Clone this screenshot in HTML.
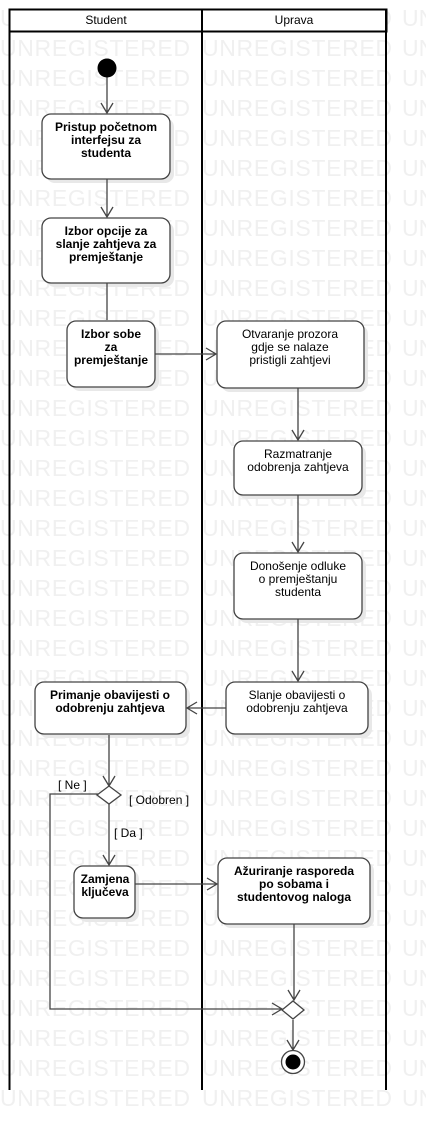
<!DOCTYPE html>
<html><head><meta charset="utf-8"><style>
html,body{margin:0;padding:0;background:#fff;}
svg{display:block;}
.wm{font-family:"Liberation Sans",sans-serif;font-size:23px;fill:#f0f0f0;}
.t{font-family:"Liberation Sans",sans-serif;font-size:12px;font-weight:bold;fill:#000;text-anchor:middle;}
.l{font-family:"Liberation Sans",sans-serif;font-size:12px;fill:#000;}
.n{fill:#fff;stroke:#444;stroke-width:1.3;}
.s{fill:#e8e8e8;}
.c{stroke:#444;stroke-width:1.3;fill:none;}
</style></head><body>
<svg width="426" height="1130" viewBox="0 0 426 1130" xmlns="http://www.w3.org/2000/svg">
<g class="wm">
<text x="0" y="26" textLength="190">UNREGISTERED</text><text x="202" y="26" textLength="190">UNREGISTERED</text><text x="402" y="26">UN</text>
<text x="0" y="56" textLength="190">UNREGISTERED</text><text x="202" y="56" textLength="190">UNREGISTERED</text><text x="402" y="56">UN</text>
<text x="0" y="86" textLength="190">UNREGISTERED</text><text x="202" y="86" textLength="190">UNREGISTERED</text><text x="402" y="86">UN</text>
<text x="0" y="116" textLength="190">UNREGISTERED</text><text x="202" y="116" textLength="190">UNREGISTERED</text><text x="402" y="116">UN</text>
<text x="0" y="146" textLength="190">UNREGISTERED</text><text x="202" y="146" textLength="190">UNREGISTERED</text><text x="402" y="146">UN</text>
<text x="0" y="176" textLength="190">UNREGISTERED</text><text x="202" y="176" textLength="190">UNREGISTERED</text><text x="402" y="176">UN</text>
<text x="0" y="206" textLength="190">UNREGISTERED</text><text x="202" y="206" textLength="190">UNREGISTERED</text><text x="402" y="206">UN</text>
<text x="0" y="236" textLength="190">UNREGISTERED</text><text x="202" y="236" textLength="190">UNREGISTERED</text><text x="402" y="236">UN</text>
<text x="0" y="266" textLength="190">UNREGISTERED</text><text x="202" y="266" textLength="190">UNREGISTERED</text><text x="402" y="266">UN</text>
<text x="0" y="296" textLength="190">UNREGISTERED</text><text x="202" y="296" textLength="190">UNREGISTERED</text><text x="402" y="296">UN</text>
<text x="0" y="326" textLength="190">UNREGISTERED</text><text x="202" y="326" textLength="190">UNREGISTERED</text><text x="402" y="326">UN</text>
<text x="0" y="356" textLength="190">UNREGISTERED</text><text x="202" y="356" textLength="190">UNREGISTERED</text><text x="402" y="356">UN</text>
<text x="0" y="386" textLength="190">UNREGISTERED</text><text x="202" y="386" textLength="190">UNREGISTERED</text><text x="402" y="386">UN</text>
<text x="0" y="416" textLength="190">UNREGISTERED</text><text x="202" y="416" textLength="190">UNREGISTERED</text><text x="402" y="416">UN</text>
<text x="0" y="446" textLength="190">UNREGISTERED</text><text x="202" y="446" textLength="190">UNREGISTERED</text><text x="402" y="446">UN</text>
<text x="0" y="476" textLength="190">UNREGISTERED</text><text x="202" y="476" textLength="190">UNREGISTERED</text><text x="402" y="476">UN</text>
<text x="0" y="506" textLength="190">UNREGISTERED</text><text x="202" y="506" textLength="190">UNREGISTERED</text><text x="402" y="506">UN</text>
<text x="0" y="536" textLength="190">UNREGISTERED</text><text x="202" y="536" textLength="190">UNREGISTERED</text><text x="402" y="536">UN</text>
<text x="0" y="566" textLength="190">UNREGISTERED</text><text x="202" y="566" textLength="190">UNREGISTERED</text><text x="402" y="566">UN</text>
<text x="0" y="596" textLength="190">UNREGISTERED</text><text x="202" y="596" textLength="190">UNREGISTERED</text><text x="402" y="596">UN</text>
<text x="0" y="626" textLength="190">UNREGISTERED</text><text x="202" y="626" textLength="190">UNREGISTERED</text><text x="402" y="626">UN</text>
<text x="0" y="656" textLength="190">UNREGISTERED</text><text x="202" y="656" textLength="190">UNREGISTERED</text><text x="402" y="656">UN</text>
<text x="0" y="686" textLength="190">UNREGISTERED</text><text x="202" y="686" textLength="190">UNREGISTERED</text><text x="402" y="686">UN</text>
<text x="0" y="716" textLength="190">UNREGISTERED</text><text x="202" y="716" textLength="190">UNREGISTERED</text><text x="402" y="716">UN</text>
<text x="0" y="746" textLength="190">UNREGISTERED</text><text x="202" y="746" textLength="190">UNREGISTERED</text><text x="402" y="746">UN</text>
<text x="0" y="776" textLength="190">UNREGISTERED</text><text x="202" y="776" textLength="190">UNREGISTERED</text><text x="402" y="776">UN</text>
<text x="0" y="806" textLength="190">UNREGISTERED</text><text x="202" y="806" textLength="190">UNREGISTERED</text><text x="402" y="806">UN</text>
<text x="0" y="836" textLength="190">UNREGISTERED</text><text x="202" y="836" textLength="190">UNREGISTERED</text><text x="402" y="836">UN</text>
<text x="0" y="866" textLength="190">UNREGISTERED</text><text x="202" y="866" textLength="190">UNREGISTERED</text><text x="402" y="866">UN</text>
<text x="0" y="896" textLength="190">UNREGISTERED</text><text x="202" y="896" textLength="190">UNREGISTERED</text><text x="402" y="896">UN</text>
<text x="0" y="926" textLength="190">UNREGISTERED</text><text x="202" y="926" textLength="190">UNREGISTERED</text><text x="402" y="926">UN</text>
<text x="0" y="956" textLength="190">UNREGISTERED</text><text x="202" y="956" textLength="190">UNREGISTERED</text><text x="402" y="956">UN</text>
<text x="0" y="986" textLength="190">UNREGISTERED</text><text x="202" y="986" textLength="190">UNREGISTERED</text><text x="402" y="986">UN</text>
<text x="0" y="1016" textLength="190">UNREGISTERED</text><text x="202" y="1016" textLength="190">UNREGISTERED</text><text x="402" y="1016">UN</text>
<text x="0" y="1046" textLength="190">UNREGISTERED</text><text x="202" y="1046" textLength="190">UNREGISTERED</text><text x="402" y="1046">UN</text>
<text x="0" y="1076" textLength="190">UNREGISTERED</text><text x="202" y="1076" textLength="190">UNREGISTERED</text><text x="402" y="1076">UN</text>
<text x="0" y="1106" textLength="190">UNREGISTERED</text><text x="202" y="1106" textLength="190">UNREGISTERED</text><text x="402" y="1106">UN</text>
</g>
<rect x="9.5" y="9.5" width="377" height="22" fill="#fff" stroke="#000" stroke-width="2"/>
<line x1="9.5" y1="9" x2="9.5" y2="1090" stroke="#000" stroke-width="2"/>
<line x1="202" y1="9" x2="202" y2="1090" stroke="#000" stroke-width="2"/>
<line x1="386" y1="9" x2="386" y2="1090" stroke="#000" stroke-width="2"/>
<text class="l" x="106" y="24" text-anchor="middle">Student</text>
<text class="l" x="294" y="24" text-anchor="middle">Uprava</text>
<g class="s">
<rect x="46" y="118" width="128" height="65" rx="9"/>
<rect x="46" y="222" width="128" height="65" rx="9"/>
<rect x="71" y="325" width="88" height="66" rx="9"/>
<rect x="221" y="325" width="147" height="67" rx="9"/>
<rect x="238" y="445" width="128" height="54" rx="9"/>
<rect x="238" y="557" width="128" height="66" rx="9"/>
<rect x="230" y="686" width="142" height="52" rx="9"/>
<rect x="39" y="686" width="151" height="52" rx="9"/>
<rect x="78" y="870" width="61" height="52" rx="9"/>
<rect x="222" y="862" width="152" height="66" rx="9"/>
</g>
<g class="c">
<path d="M107 76V113M101 103L107 113L113 103"/>
<path d="M107 179V217M101 207L107 217L113 207"/>
<path d="M107 283V320"/>
<path d="M155 354H216M206 348L216 354L206 360"/>
<path d="M298 388V440M292 430L298 440L304 430"/>
<path d="M298 495V552M292 542L298 552L304 542"/>
<path d="M298 619V681M292 671L298 681L304 671"/>
<path d="M226 708H187M197 702L187 708L197 714"/>
<path d="M109 735V786M103 776L109 786L115 776"/>
<path d="M109 804V865M103 855L109 865L115 855"/>
<path d="M135 884H217M207 878L217 884L207 890"/>
<path d="M294 924V1000M288 990L294 1000L300 990"/>
<path d="M98 794H50V1009H282M272 1003L282 1009L272 1015"/>
<path d="M293 1020V1050M287 1040L293 1050L299 1040"/>
</g>
<circle cx="107" cy="68" r="9.5" fill="#000"/>
<rect class="n" x="42" y="114" width="128" height="65" rx="9"/>
<text class="t" x="106" y="131">Pristup početnom</text><text class="t" x="106" y="144">interfejsu za</text><text class="t" x="106" y="157">studenta</text>
<rect class="n" x="42" y="218" width="128" height="65" rx="9"/>
<text class="t" x="106" y="235">Izbor opcije za</text><text class="t" x="106" y="248">slanje zahtjeva za</text><text class="t" x="106" y="261">premještanje</text>
<rect class="n" x="67" y="321" width="88" height="66" rx="9"/>
<text class="t" x="111" y="338">Izbor sobe</text><text class="t" x="111" y="351">za</text><text class="t" x="111" y="364">premještanje</text>
<rect class="n" x="217" y="321" width="147" height="67" rx="9"/>
<text class="t" x="290" y="338" style="font-weight:normal">Otvaranje prozora</text><text class="t" x="290" y="351" style="font-weight:normal">gdje se nalaze</text><text class="t" x="290" y="364" style="font-weight:normal">pristigli zahtjevi</text>
<rect class="n" x="234" y="441" width="128" height="54" rx="9"/>
<text class="t" x="298" y="458" style="font-weight:normal">Razmatranje</text><text class="t" x="298" y="471" style="font-weight:normal">odobrenja zahtjeva</text>
<rect class="n" x="234" y="553" width="128" height="66" rx="9"/>
<text class="t" x="298" y="570" style="font-weight:normal">Donošenje odluke</text><text class="t" x="298" y="583" style="font-weight:normal">o premještanju</text><text class="t" x="298" y="596" style="font-weight:normal">studenta</text>
<rect class="n" x="226" y="682" width="142" height="52" rx="9"/>
<text class="t" x="297" y="699" style="font-weight:normal">Slanje obavijesti o</text><text class="t" x="297" y="712" style="font-weight:normal">odobrenju zahtjeva</text>
<rect class="n" x="35" y="682" width="151" height="52" rx="9"/>
<text class="t" x="110" y="699">Primanje obavijesti o</text><text class="t" x="110" y="712">odobrenju zahtjeva</text>
<path d="M97 795L109 786L121 795L109 804Z" fill="#fff" stroke="#444" stroke-width="1.3"/>
<text class="l" x="58" y="789">[ Ne ]</text>
<text class="l" x="129" y="804">[ Odobren ]</text>
<text class="l" x="114" y="837">[ Da ]</text>
<rect class="n" x="74" y="866" width="61" height="52" rx="9"/>
<text class="t" x="105" y="883">Zamjena</text><text class="t" x="105" y="896">ključeva</text>
<rect class="n" x="218" y="858" width="152" height="66" rx="9"/>
<text class="t" x="294" y="875">Ažuriranje rasporeda</text><text class="t" x="294" y="888">po sobama i</text><text class="t" x="294" y="901">studentovog naloga</text>
<path d="M282 1010L293 1001L304 1010L293 1019Z" fill="#fff" stroke="#444" stroke-width="1.3"/>
<circle cx="293" cy="1062" r="11.5" fill="#fff" stroke="#444" stroke-width="1.3"/>
<circle cx="293" cy="1062" r="7.5" fill="#000"/>
</svg>
</body></html>
